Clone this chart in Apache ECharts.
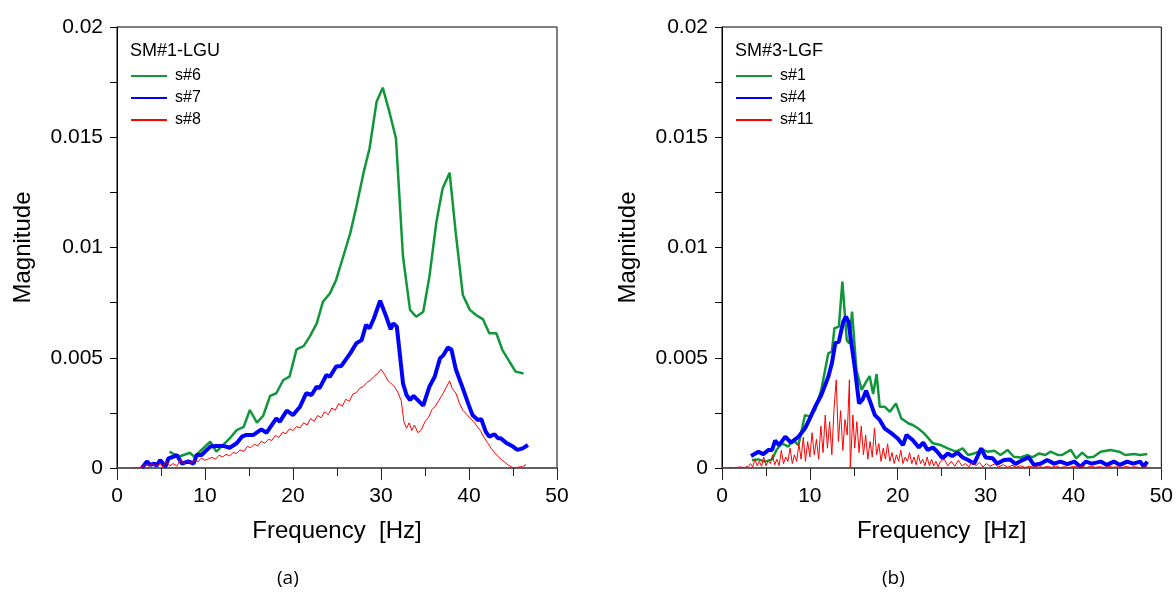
<!DOCTYPE html>
<html>
<head>
<meta charset="utf-8">
<script src="https://cdn.jsdelivr.net/npm/echarts@6/dist/echarts.min.js"></script>
<style>
html,body{margin:0;padding:0;background:#fff;}
#chart{width:1176px;height:592px;}
</style>
</head>
<body>
<div id="chart"></div>
<script>
// ---- Panel (a): SM#1-LGU ----
const xTicks = [0, 10, 20, 30, 40, 50];
const yTicks = [0, 0.005, 0.01, 0.015, 0.02];

const s6Freq = [5.97,6.99,8.31,8.77,10.6,11.3,12.8,13.6,14.4,15.1,15.9,16.6,17.4,18.1,18.9,19.6,20.4,21.2,21.9,22.7,23.4,24.2,24.9,25.7,26.5,27.2,28.0,28.7,29.5,30.2,31.0,31.7,32.5,33.3,34.0,34.8,35.5,36.3,37.0,37.8,38.5,39.3,40.1,40.8,41.6,42.3,43.1,43.8,44.6,45.3,46.2];
const s6Mag = [0.00074,0.00051,0.00069,0.00051,0.00119,0.00074,0.00134,0.00172,0.00187,0.00263,0.00206,0.00236,0.00327,0.00339,0.00399,0.00414,0.00538,0.00553,0.00596,0.00656,0.00754,0.00792,0.00853,0.00958,0.01064,0.01185,0.01336,0.0145,0.01661,0.01725,0.01608,0.01495,0.00958,0.00717,0.00686,0.00709,0.00868,0.01117,0.01268,0.01339,0.01064,0.00785,0.00717,0.00694,0.00674,0.00611,0.00611,0.00535,0.00482,0.00437,0.00429];

const s7Freq = [2.83,3.4,3.78,4.23,4.5,4.9,5.5,5.85,6.4,6.8,7.37,8.1,8.7,9.07,9.6,10.6,11.3,12.1,12.8,13.6,14.2,14.7,15.5,16.4,17.0,18.1,18.5,19.3,20.0,20.8,21.5,22.1,22.7,23.0,23.8,24.2,24.9,25.5,26.5,27.2,27.8,28.3,28.7,29.2,29.9,30.6,31.1,31.4,31.8,32.5,32.9,33.3,33.7,34.8,35.5,36.1,36.7,37.1,37.6,38.0,38.5,39.3,39.9,40.4,41.0,41.4,41.9,42.3,42.9,43.3,43.6,44.2,45.0,45.5,46.1,46.7];
const s7Mag = [0,0.0003,0.00014,0.0002,0.0001,0.00036,0.00006,0.00044,0.00051,0.00059,0.0002,0.0003,0.0002,0.00059,0.00059,0.00097,0.001,0.001,0.00092,0.00112,0.00142,0.0015,0.0015,0.00175,0.0016,0.00225,0.0021,0.0026,0.0024,0.00278,0.00339,0.00331,0.00369,0.00361,0.00422,0.00414,0.0046,0.00463,0.0052,0.00566,0.0058,0.00649,0.00634,0.00679,0.00759,0.00686,0.00629,0.00656,0.00641,0.00384,0.00331,0.00308,0.00327,0.00283,0.00369,0.00414,0.00497,0.00512,0.00547,0.00538,0.00448,0.00361,0.00293,0.0024,0.00218,0.00221,0.00165,0.00142,0.00153,0.00135,0.00135,0.00115,0.00097,0.00082,0.00089,0.00104];

const s8Freq = [1.6,2.0,2.4,2.8,3.2,3.6,4.0,4.4,4.8,5.2,5.6,6.0,6.4,6.8,7.2,7.6,8.0,8.4,8.8,9.2,9.6,10.0,10.4,10.8,11.2,11.6,12.0,12.4,12.8,13.2,13.6,14.0,14.4,14.8,15.2,15.6,16.0,16.4,16.8,17.2,17.6,18.0,18.4,18.8,19.2,19.6,20.0,20.4,20.8,21.2,21.6,22.0,22.4,22.8,23.2,23.6,24.0,24.4,24.8,25.2,25.6,26.0,26.4,26.8,27.2,27.6,28.0,28.4,28.8,29.2,29.6,30.0,30.4,30.8,31.1,31.5,31.9,32.3,32.6,32.9,33.2,33.5,33.8,34.2,34.6,35.0,35.4,35.8,36.2,36.6,37.0,37.4,37.8,38.1,38.5,38.9,39.3,39.7,40.1,40.5,40.9,41.3,41.7,42.1,42.5,42.9,43.3,43.7,44.1,44.5,44.9,45.3,45.7,46.1,46.5];
const s8Mag = [0,0.00002,0,0.00005,0.00015,0.00008,0.0002,0.0001,0.00018,0.00006,0.00028,0.0001,0.0002,0.00008,0.00038,0.0002,0.00032,0.00022,0.00035,0.00028,0.00045,0.00035,0.00042,0.00048,0.0004,0.00058,0.0005,0.00062,0.00055,0.0007,0.00066,0.00082,0.00075,0.00098,0.00092,0.00108,0.001,0.00122,0.00112,0.0013,0.00125,0.00148,0.00138,0.00162,0.00155,0.00178,0.0017,0.00188,0.00182,0.00205,0.00195,0.00224,0.00212,0.00238,0.00228,0.00255,0.00242,0.00272,0.00262,0.00292,0.0028,0.00312,0.00302,0.00335,0.00342,0.00362,0.0037,0.00388,0.00398,0.00415,0.00428,0.00448,0.00425,0.00395,0.00385,0.0037,0.00345,0.00305,0.0021,0.0018,0.00205,0.0017,0.00195,0.0016,0.00175,0.0021,0.0023,0.00265,0.00282,0.00308,0.00335,0.00365,0.00395,0.0036,0.0034,0.00295,0.00262,0.00245,0.00228,0.00212,0.0019,0.0017,0.0014,0.00115,0.0009,0.0007,0.00052,0.00038,0.00025,0.00012,0.00003,0,0.00005,0.00006,0.00016];

// ---- Panel (b): SM#3-LGF ----
const s1Freq = [3.4,4.15,4.9,5.7,6.2,6.8,7.55,8.1,8.7,9.45,10.0,10.6,11.3,12.1,12.5,12.8,13.3,13.7,14.2,14.5,14.8,15.3,15.9,16.4,16.8,17.2,17.6,17.95,18.5,19.1,19.8,20.4,21.2,21.7,22.3,23.0,24.0,24.9,25.7,26.6,27.4,28.0,28.7,29.7,30.2,31.0,31.7,32.5,33.2,34.0,34.8,35.3,36.1,36.8,37.4,38.2,38.7,39.7,40.3,41.0,41.6,42.3,43.1,44.2,45.2,45.9,46.9,47.6,48.4];
const s1Mag = [0.00036,0.00039,0.00029,0.00039,0.00082,0.00112,0.00097,0.00127,0.00104,0.0024,0.00233,0.00263,0.00354,0.0052,0.00528,0.00634,0.00641,0.00845,0.0058,0.00565,0.00709,0.00444,0.00354,0.00391,0.00417,0.00336,0.00426,0.00278,0.00278,0.00255,0.00293,0.00225,0.00203,0.00195,0.0018,0.00157,0.00112,0.00104,0.00089,0.00074,0.00089,0.00059,0.00066,0.00082,0.00074,0.00078,0.00059,0.00082,0.00051,0.00048,0.00059,0.00048,0.00066,0.00059,0.00074,0.00059,0.00059,0.00082,0.00044,0.0007,0.00048,0.00051,0.00074,0.00082,0.00074,0.00059,0.00063,0.00059,0.00063];

const s4Freq = [3.3,4.15,4.7,5.3,5.7,6.05,6.5,7.2,7.85,8.7,9.45,10.0,10.6,11.3,12.1,12.5,12.9,13.3,13.8,14.1,14.4,14.7,15.1,15.6,16.0,16.4,16.8,17.4,17.95,18.5,19.3,20.0,20.6,21.0,21.7,22.4,22.9,23.4,24.0,24.5,25.1,25.7,26.2,26.8,27.4,28.0,28.7,29.5,30.0,30.8,31.3,32.1,32.8,33.4,34.2,34.9,35.5,36.3,37.0,37.8,38.5,39.3,40.1,40.8,41.4,42.1,43.1,43.8,44.6,45.3,46.1,46.8,47.6,48.0,48.4];
const s4Mag = [0.00054,0.00074,0.00063,0.00082,0.00082,0.00124,0.00104,0.00142,0.00115,0.00142,0.0018,0.00225,0.00278,0.00331,0.00414,0.00474,0.00566,0.00573,0.00664,0.00686,0.00664,0.00573,0.00459,0.00293,0.00311,0.0035,0.00308,0.0024,0.00218,0.0018,0.00157,0.00134,0.00104,0.0015,0.00127,0.00093,0.00115,0.00082,0.00093,0.00074,0.00044,0.00066,0.00054,0.0007,0.00048,0.00036,0.0002,0.00089,0.00048,0.00044,0.0002,0.00036,0.00039,0.00018,0.00036,0.00048,0.00014,0.0002,0.00036,0.0002,0.00029,0.00018,0.00029,0.00006,0.00029,0.0002,0.00029,0.00014,0.00029,0.00014,0.00029,0.0002,0.00029,0.00006,0.00029];

const s11Freq = [0.5,1.0,1.5,2.0,2.5,3.0,3.25,3.5,3.75,4.0,4.25,4.5,4.75,5.0,5.25,5.5,5.75,6.0,6.25,6.5,6.75,7.0,7.25,7.5,7.75,8.0,8.25,8.5,8.75,9.0,9.25,9.5,9.75,10.0,10.25,10.5,10.75,11.0,11.25,11.5,11.75,12.0,12.25,12.5,12.75,13.0,13.25,13.5,13.75,14.0,14.25,14.5,14.6,14.9,15.1,15.35,15.6,15.85,16.1,16.35,16.6,16.85,17.1,17.35,17.6,17.85,18.1,18.35,18.6,18.85,19.1,19.35,19.6,19.85,20.1,20.35,20.6,20.85,21.1,21.35,21.6,21.85,22.1,22.35,22.6,22.85,23.1,23.35,23.6,23.85,24.1,24.35,24.6,24.85,25.3,25.7,26.1,26.5,26.9,27.3,27.7,28.1,28.5,28.9,29.3,29.7,30.1,30.5,31.0,31.5,32.0,32.5,33.0,33.5,34.0,34.5,35.0,35.5,36.0,36.5,37.0,37.5,38.0,38.5,39.0,39.5,40.0,40.5,41.0,41.5,42.0,42.5,43.0,43.5,44.0,44.5,45.0,45.5,46.0,46.5,47.0,47.5,48.0,48.5];
const s11Mag = [0,0.00003,0.00001,0.00005,0.00002,0.00008,0.0002,0.00005,0.0004,0.0001,0.0003,0.00008,0.0005,0.0001,0.0003,0.0002,0.0006,0.00015,0.0004,0.0001,0.0008,0.0002,0.0005,0.0003,0.0009,0.0002,0.0006,0.0003,0.0011,0.0004,0.0014,0.0003,0.0012,0.0005,0.0016,0.0006,0.0013,0.0004,0.0019,0.0007,0.0024,0.0009,0.0021,0.0006,0.0027,0.004,0.0012,0.0026,0.0008,0.0022,0.0015,0.004,0,0.0024,0.0009,0.0021,0.0007,0.0019,0.0006,0.0015,0.0004,0.0012,0.0005,0.0018,0.0006,0.0011,0.0003,0.0009,0.0004,0.0011,0.0003,0.0007,0.0002,0.0006,0.0003,0.0008,0.0002,0.0005,0.0003,0.0007,0.0002,0.0005,0.00015,0.0006,0.0002,0.0004,0.0001,0.0005,0.0001,0.0004,0.0001,0.0003,0.00005,0.0003,0.0004,0.0001,0.0003,0.00008,0.00035,0.0001,0.0002,0.00005,0.0003,0.0001,0.00025,0.00005,0.0002,0.00008,0.00018,0.00005,0.00015,0.00003,0.00012,0.00004,0.0001,0.00002,0.00008,0.00003,0.0001,0.00002,0.00007,0.00003,0.00009,0.00002,0.00006,0.00002,0.00008,0.00003,0.00007,0.00002,0.00009,0.00003,0.00006,0.00002,0.00008,0.00003,0.00006,0.00002,0.00007,0.00003,0.00006,0.00002,0.00005,0.00003];

const GREEN = '#11973a', BLUE = '#0000ff', RED = '#ff0000';
const FONT = '"Liberation Sans", Arial, sans-serif';

function zip(f, m) {
  const n = Math.min(f.length, m.length);
  const out = [];
  for (let i = 0; i < n; i++) out.push([f[i], m[i]]);
  return out;
}

function xAxisFor(gi) {
  return {
    gridIndex: gi, type: 'value',
    min: xTicks[0], max: xTicks[xTicks.length - 1], interval: xTicks[1] - xTicks[0],
    name: 'Frequency  [Hz]', nameLocation: 'middle', nameGap: 51,
    nameTextStyle: { fontSize: 24, color: '#000', fontFamily: FONT },
    axisLine: { show: true, onZero: false, lineStyle: { color: '#555', width: 1.5 } },
    axisTick: { show: true, inside: false, length: 12, lineStyle: { color: '#222', width: 1 } },
    minorTick: { show: true, splitNumber: 2, length: 8, lineStyle: { color: '#222', width: 1 } },
    splitLine: { show: false },
    axisLabel: { fontSize: 21, color: '#000', margin: 18, fontFamily: FONT }
  };
}
function yAxisFor(gi) {
  return {
    gridIndex: gi, type: 'value',
    min: yTicks[0], max: yTicks[yTicks.length - 1], interval: yTicks[1] - yTicks[0],
    name: 'Magnitude', nameLocation: 'middle', nameGap: 82,
    nameTextStyle: { fontSize: 24, color: '#000', fontFamily: FONT },
    axisLine: { show: true, lineStyle: { color: '#000', width: 1 } },
    axisTick: { show: true, inside: false, length: 7, lineStyle: { color: '#000', width: 1 } },
    minorTick: { show: true, splitNumber: 2, length: 7, lineStyle: { color: '#000', width: 1 } },
    splitLine: { show: false },
    axisLabel: { fontSize: 21, color: '#000', margin: 14, fontFamily: FONT,
      formatter: v => String(+(+v).toFixed(4)) }
  };
}
function line(name, gi, data, color, width) {
  return {
    name, type: 'line', xAxisIndex: gi, yAxisIndex: gi, data,
    showSymbol: false, symbol: 'none', animation: false,
    lineStyle: { color, width }, itemStyle: { color }
  };
}
function legendFor(left, names) {
  return {
    left, top: 68, orient: 'vertical', itemWidth: 36, itemHeight: 14, itemGap: 6,
    padding: 0, data: names, selectedMode: false,
    itemStyle: { opacity: 0 },
    textStyle: { fontSize: 16, color: '#000', fontFamily: FONT, padding: [0, 0, 0, 3] }
  };
}
const panelTitleStyle = { fontSize: 18, fontWeight: 'normal', color: '#000', fontFamily: FONT };
const capStyle = { fontSize: 19, fontWeight: 'normal', color: '#000', fontFamily: '"Open Sans", Lato, sans-serif' };

const chart = echarts.init(document.getElementById('chart'), null, { renderer: 'canvas' });
chart.setOption({
  backgroundColor: '#fff',
  animation: false,
  title: [
    { text: 'SM#1-LGU', left: 130, top: 42, textStyle: panelTitleStyle, padding: 0 },
    { text: 'SM#3-LGF', left: 735, top: 42, textStyle: panelTitleStyle, padding: 0 },
    { text: '(a)', left: 277, top: 569, textStyle: capStyle, padding: 0 },
    { text: '(b)', left: 882, top: 569, textStyle: capStyle, padding: 0 }
  ],
  legend: [
    legendFor(130, ['s#6', 's#7', 's#8']),
    legendFor(735, ['s#1', 's#4', 's#11'])
  ],
  grid: [
    { left: 117, top: 27, width: 440, height: 441, show: true, borderColor: '#000', borderWidth: 1, backgroundColor: 'transparent' },
    { left: 722, top: 27, width: 440, height: 441, show: true, borderColor: '#000', borderWidth: 1, backgroundColor: 'transparent' }
  ],
  xAxis: [xAxisFor(0), xAxisFor(1)],
  yAxis: [yAxisFor(0), yAxisFor(1)],
  series: [
    line('s#6', 0, zip(s6Freq, s6Mag), GREEN, 2.5),
    line('s#7', 0, zip(s7Freq, s7Mag), BLUE, 4),
    line('s#8', 0, zip(s8Freq, s8Mag), RED, 1),
    line('s#1', 1, zip(s1Freq, s1Mag), GREEN, 2.5),
    line('s#4', 1, zip(s4Freq, s4Mag), BLUE, 4),
    line('s#11', 1, zip(s11Freq, s11Mag), RED, 1)
  ]
});
</script>
</body>
</html>
